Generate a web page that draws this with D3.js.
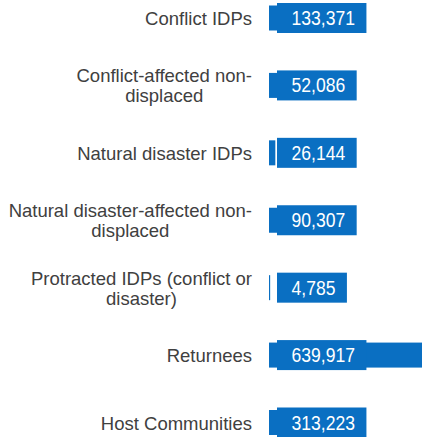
<!DOCTYPE html>
<html>
<head>
<meta charset="utf-8">
<script src="https://cdn.jsdelivr.net/npm/d3@7"></script>
<style>
  body { margin: 0; background: #fff; }
  svg { display: block; }
</style>
</head>
<body>
<script>
const w = 422;
const h = 437;

// Data
const categories = [
  "Conflict IDPs",
  "Conflict-affected non-displaced",
  "Natural disaster IDPs",
  "Natural disaster-affected non-displaced",
  "Protracted IDPs (conflict or disaster)",
  "Returnees",
  "Host Communities"
];
const labelLines = [
  ["Conflict IDPs"],
  ["Conflict-affected non-", "displaced"],
  ["Natural disaster IDPs"],
  ["Natural disaster-affected non-", "displaced"],
  ["Protracted IDPs (conflict or", "disaster)"],
  ["Returnees"],
  ["Host Communities"]
];
const values = [133371, 52086, 26144, 90307, 4785, 639917, 313223];

const blue = "#0a6fc2";
const barLeft = 269;
const labelRight = 252;
const sx = 0.9; // value text is a bit narrow

const svg = d3
  .select("body")
  .append("svg")
  .attr("width", w)
  .attr("height", h);

// row positions
const y = d3.scalePoint().domain(categories).range([18, 422.5]);

// bar length
const x = d3.scaleLinear().domain([0, d3.max(values)]).range([0, 155]);

const fmt = d3.format(",");

const rows = svg
  .selectAll("g.row")
  .data(categories)
  .enter()
  .append("g")
  .attr("class", "row")
  .attr("transform", (d) => `translate(0,${y(d)})`);

// bars
rows
  .append("rect")
  .attr("x", barLeft)
  .attr("y", -12.5)
  .attr("width", (d, i) => x(values[i]))
  .attr("height", 25)
  .attr("fill", blue);

// category labels, lines centred in a right-aligned block
rows.each(function (d, i) {
  const g = d3.select(this);
  const lines = labelLines[i];
  const lh = 20;
  const t = g
    .append("text")
    .attr("font-family", "Liberation Sans, Arial, sans-serif")
    .attr("font-size", 18.5)
    .attr("fill", "#404040")
    .attr("text-anchor", "middle");
  lines.forEach((l, k) => {
    t.append("tspan")
      .attr("x", 0)
      .attr("y", 7 + (k - (lines.length - 1) / 2) * lh)
      .text(l);
  });
  const bw = t.node().getBBox().width;
  t.attr("transform", `translate(${labelRight - bw / 2},0)`);
});

// value boxes
rows.each(function (d, i) {
  const g = d3.select(this);
  const box = g.append("rect").attr("fill", blue);
  const t = g
    .append("text")
    .attr("font-family", "Liberation Sans, Arial, sans-serif")
    .attr("font-size", 19.5)
    .attr("fill", "#fff")
    .attr("transform", `translate(291.5,7) scale(${sx},1)`)
    .text(fmt(values[i]));
  const tw = t.node().getComputedTextLength() * sx;
  box
    .attr("x", 277)
    .attr("y", -15)
    .attr("width", tw + 26)
    .attr("height", 30);
});
</script>
</body>
</html>
